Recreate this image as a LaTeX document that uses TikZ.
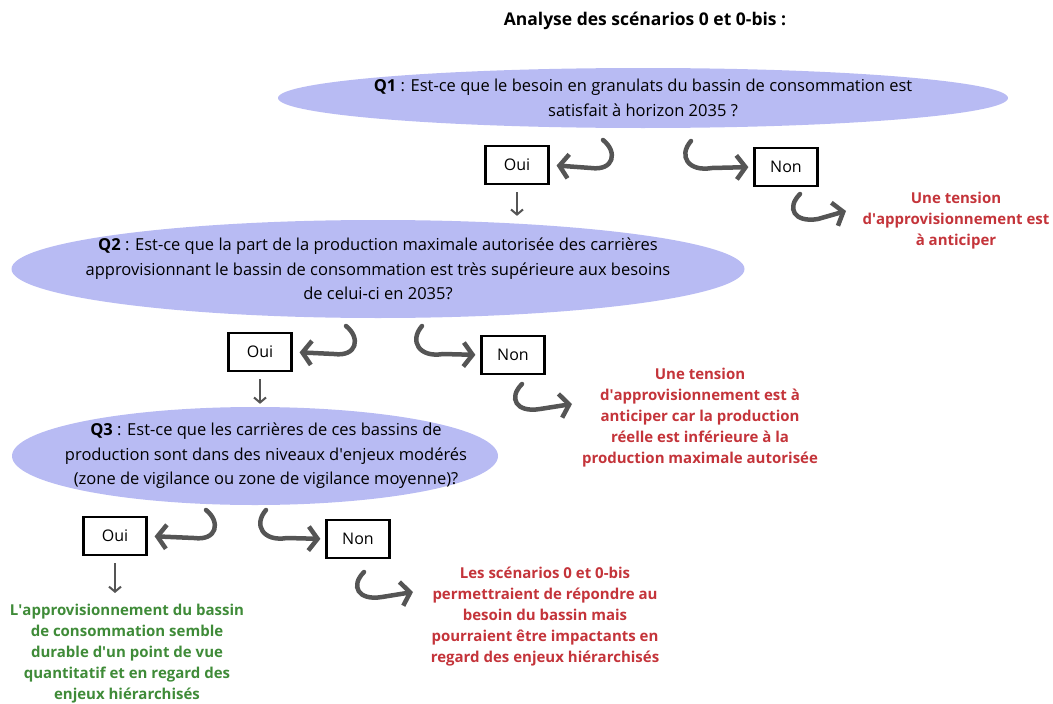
\documentclass[tikz,border=0pt]{standalone}
\usepackage{fontspec}
\setmainfont{Open Sans}
\usetikzlibrary{arrows.meta,shapes.geometric}

\definecolor{qfill}{HTML}{B8BBF3}
\definecolor{redtxt}{HTML}{C4343A}
\definecolor{greentxt}{HTML}{3F8B38}
\definecolor{arrowgray}{HTML}{555555}
\newcommand{\ap}{\textquotesingle}

\tikzset{
  question/.style={ellipse, fill=qfill, inner sep=0pt},
  qtext/.style={align=center, font=\fontsize{16.5}{24.5}\selectfont},
  answer/.style={draw, line width=2.2pt, minimum width=63pt, minimum height=38pt, inner sep=0pt, font=\fontsize{16}{18}\selectfont},
  result/.style={align=center, font=\bfseries\fontsize{15}{21}\selectfont},
  curl/.style={draw=arrowgray, line width=4.5pt, line cap=round, -{Straight Barb[length=9pt,width=24pt]}},
  down/.style={draw=arrowgray, line width=2pt, -{Straight Barb[length=5pt,width=12pt]}}
}

\begin{document}
\begin{tikzpicture}[x=1pt,y=-1pt]
\useasboundingbox (0,0) rectangle (1053,704);
% Title
\node[font=\bfseries\fontsize{17.5}{20}\selectfont] (title) at (645,21) {Analyse des scénarios 0 et 0-bis :};

% Questions
\node[question, minimum width=730pt, minimum height=60pt] (q1) at (643,98) {};
\node[qtext] (q1text) at (q1) {\textbf{Q1} : Est-ce que le besoin en granulats du bassin de consommation est\\satisfait à horizon 2035 ?};
\node[question, minimum width=733pt, minimum height=98pt] (q2) at (378,269) {};
\node[qtext] (q2text) at (q2) {\textbf{Q2} : Est-ce que la part de la production maximale autorisée des carrières\\approvisionnant le bassin de consommation est très supérieure aux besoins\\de celui-ci en 2035?};
\node[question, minimum width=486pt, minimum height=98pt] (q3) at (255,456) {};
\node[qtext] (q3text) at (266,456) {\textbf{Q3} : Est-ce que les carrières de ces bassins de\\production sont dans des niveaux d\ap enjeux modérés\\(zone de vigilance ou zone de vigilance moyenne)?};

% Answers
\node[answer] (oui1) at (517,165) {Oui};
\node[answer] (non1) at (786,167) {Non};
\node[answer] (oui2) at (260,352) {Oui};
\node[answer] (non2) at (513,355) {Non};
\node[answer] (oui3) at (115,536) {Oui};
\node[answer] (non3) at (358,539) {Non};

% Conclusions
\node[result, text=redtxt] (r1) at (956,221) {Une tension\\d\ap approvisionnement est\\à anticiper};
\node[result, text=redtxt] (r2) at (700,418) {Une tension\\d\ap approvisionnement est à\\anticiper car la production\\réelle est inférieure à la\\production maximale autorisée};
\node[result, text=redtxt] (r3) at (545,617) {Les scénarios 0 et 0-bis\\permettraient de répondre au\\besoin du bassin mais\\pourraient être impactants en\\regard des enjeux hiérarchisés};
\node[result, text=greentxt] (g3) at (127,654) {L\ap approvisionnement du bassin\\de consommation semble\\durable d\ap un point de vue\\quantitatif et en regard des\\enjeux hiérarchisés};

% Curled arrows
\coordinate (a1) at (603,140);
\coordinate (b1) at (691,141);
\coordinate (c1) at (800,194);
\coordinate (t1) at (846,211);
\draw[curl, shorten >=7pt] (a1) .. controls (618,152) and (614,171) .. (591,168) -- (oui1.east);
\draw[curl, shorten >=5pt] (b1) .. controls (678,156) and (688,172) .. (712,168) -- (non1.west);
\draw[curl] (c1) .. controls (786,208) and (794,223) .. (818,219) -- (t1);

\coordinate (a2) at (346,326);
\coordinate (b2) at (422,326);
\coordinate (c2) at (522,384);
\coordinate (t2) at (572,404);
\draw[curl, shorten >=7pt] (a2) .. controls (361,338) and (357,357) .. (334,354) -- (oui2.east);
\draw[curl, shorten >=5pt] (b2) .. controls (409,341) and (419,358) .. (443,354) -- (non2.west);
\draw[curl] (c2) .. controls (508,398) and (516,413) .. (540,409) -- (t2);

\coordinate (a3) at (206,510);
\coordinate (b3) at (266,510);
\coordinate (c3) at (364,572);
\coordinate (t3) at (413,592);
\draw[curl, shorten >=7pt] (a3) .. controls (221,522) and (217,541) .. (194,538) -- (oui3.east);
\draw[curl, shorten >=5pt] (b3) .. controls (253,525) and (263,542) .. (287,538) -- (non3.west);
\draw[curl] (c3) .. controls (350,586) and (358,601) .. (382,597) -- (t3);

% Down arrows
\draw[down, shorten <=7pt, shorten >=4pt] (oui1.south) -- (oui1.south |- q2.north);
\draw[down, shorten <=7pt, shorten >=3pt] (oui2.south) -- (oui2.south |- q3.north);
\draw[down, shorten <=7pt, shorten >=8pt] (oui3.south) -- (oui3.south |- g3.north);
\end{tikzpicture}
\end{document}
